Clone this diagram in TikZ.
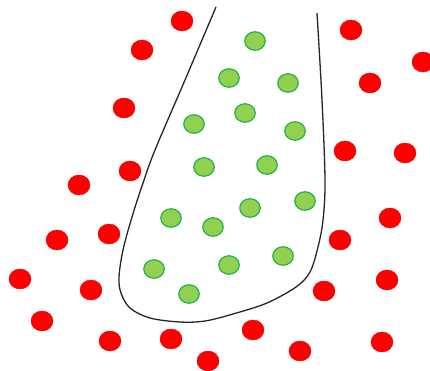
\documentclass[tikz,border=0pt]{standalone}
\usetikzlibrary{shapes.geometric}
\definecolor{dotred}{HTML}{FF0000}
\definecolor{dotgreen}{HTML}{92D050}
\definecolor{dotgreenline}{HTML}{22B24C}
\tikzset{
  reddot/.style={ellipse, fill=dotred, draw=dotred!90!black, line width=0.4pt, minimum width=22pt, minimum height=20pt, inner sep=0pt},
  greendot/.style={ellipse, fill=dotgreen, draw=dotgreenline, line width=1.2pt, minimum width=20.5pt, minimum height=18.5pt, inner sep=0pt},
  boundary/.style={draw=black!85, line width=1.3pt}
}
\begin{document}
\begin{tikzpicture}[x=1pt,y=-1pt]
\useasboundingbox (0,0) rectangle (430,371);
% red points
\foreach \n/\x/\y in {1/182/21,2/142/50,3/351/30,4/423/62,5/370/83,6/124/108,7/130/171,8/345/151,9/405/153,10/79/185,11/390/218,12/57/240,13/109/234,14/340/240,15/20/279,16/91/290,17/387/280,18/324/291,19/42/321,20/110/341,21/171/339,22/253/330,23/208/361,24/300/351,25/382/342}
  \node[reddot] (r\n) at (\x,\y) {};
% green points
\foreach \n/\x/\y in {1/255/41,2/229/78,3/288/83,4/194/124,5/245/113,6/295/131,7/204/167,8/267/165,9/171/218,10/213/227,11/250/208,12/305/201,13/154/269,14/229/265,15/283/256,16/189/294}
  \node[greendot] (g\n) at (\x,\y) {};
% boundary curve
\draw[boundary] plot[smooth, tension=0.55] coordinates {(216,7) (185,80) (155,150) (143,183) (132,217) (123,250) (119,277) (121,293) (130,308) (150,318) (180,322) (205,321) (233,314) (267,303) (296,287) (310,272) (318,247) (323,220) (325,180) (322,100) (317,13)};
\end{tikzpicture}
\end{document}
